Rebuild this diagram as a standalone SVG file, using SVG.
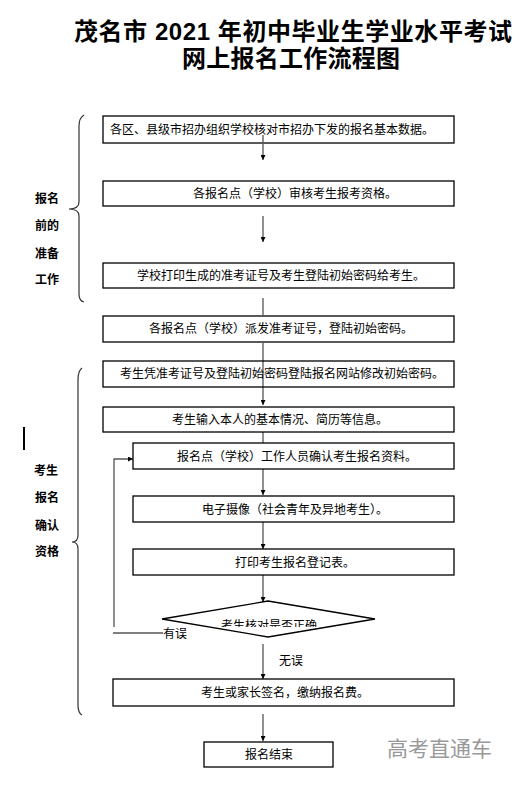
<svg xmlns="http://www.w3.org/2000/svg" width="532" height="787" viewBox="0 0 532 787">
<defs>
<style>
.box{fill:#fff;stroke:#000;stroke-width:1.3}
.t{font-family:"Noto Sans CJK SC","Liberation Sans",sans-serif;font-size:12px;fill:#000}
.side{font-family:"Noto Sans CJK SC","Liberation Sans",sans-serif;font-size:12px;font-weight:bold;fill:#000}
.title{font-family:"Liberation Sans","Noto Sans CJK SC",sans-serif;font-size:24px;font-weight:bold;fill:#000}
.c{fill:none;stroke:#555;stroke-width:1.3}
.br{fill:none;stroke:#333;stroke-width:1.2}
</style>
<marker id="ah" viewBox="0 0 10 10" refX="10" refY="5" markerWidth="5" markerHeight="5" orient="auto" markerUnits="userSpaceOnUse">
<path d="M0,0 L10,5 L0,10 z" fill="#000"/>
</marker>
<clipPath id="dclip"><rect x="150" y="590" width="240" height="37"/></clipPath>
</defs>
<rect width="532" height="787" fill="#fff"/>
<g id="title">
<text class="title" x="74" y="40" textLength="438" lengthAdjust="spacing">茂名市 2021 年初中毕业生学业水平考试</text>
<text class="title" x="182" y="67" textLength="218" lengthAdjust="spacing">网上报名工作流程图</text>
</g>
<g id="braces">
<path class="br" d="M84,115 Q79,118 79,126 L79,202 Q79,209 69,209 Q79,209 79,216 L79,294 Q79,301 84,302"/>
<path class="br" d="M82,368 Q78,371 78,380 L78,535 Q78,542 72,542 Q78,542 78,549 L78,705 Q78,713 82,715"/>
<line x1="24" y1="427" x2="24" y2="450" stroke="#000" stroke-width="2"/>
</g>
<g id="labels">
<text class="side" x="35" y="203">报名</text>
<text class="side" x="35" y="230">前的</text>
<text class="side" x="35" y="258">准备</text>
<text class="side" x="35" y="284">工作</text>
<text class="side" x="34" y="475">考生</text>
<text class="side" x="35" y="502">报名</text>
<text class="side" x="35" y="530">确认</text>
<text class="side" x="35" y="556">资格</text>
</g>
<g id="n1"><rect class="box" x="103" y="116" width="351" height="27"/><text class="t" x="110" y="134">各区、县级市招办组织学校核对市招办下发的报名基本数据。</text></g>
<g id="n2"><rect class="box" x="103" y="181" width="351" height="25"/><text class="t" x="193" y="198">各报名点（学校）审核考生报考资格。</text></g>
<g id="n3"><rect class="box" x="103" y="263" width="351" height="25"/><text class="t" x="137" y="280">学校打印生成的准考证号及考生登陆初始密码给考生。</text></g>
<g id="n4"><rect class="box" x="103" y="316" width="351" height="26"/><text class="t" x="149" y="333">各报名点（学校）派发准考证号，登陆初始密码。</text></g>
<g id="connectors">
<line class="c" x1="263" y1="135" x2="263" y2="160" marker-end="url(#ah)"/>
<line class="c" x1="263" y1="216" x2="263" y2="242" marker-end="url(#ah)"/>
<line class="c" x1="263" y1="298" x2="263" y2="316"/>
<line class="c" x1="263" y1="342" x2="263" y2="405" marker-end="url(#ah)"/>
<line class="c" x1="263" y1="432" x2="263" y2="443"/>
<line class="c" x1="263" y1="469" x2="263" y2="495" marker-end="url(#ah)"/>
<line class="c" x1="263" y1="522" x2="263" y2="549" marker-end="url(#ah)"/>
<line class="c" x1="263" y1="575" x2="263" y2="602" marker-end="url(#ah)"/>
<line class="c" x1="263" y1="644" x2="263" y2="679" marker-end="url(#ah)"/>
<line class="c" x1="263" y1="714" x2="263" y2="741" marker-end="url(#ah)"/>
<polyline class="c" points="114,627 114,459 133,459" marker-end="url(#ah)"/>
<line x1="113" y1="633" x2="163" y2="633" stroke="#000" stroke-width="1"/>
<text class="t" x="163" y="638">有误</text>
<text class="t" x="279" y="665">无误</text>
</g>
<g id="n5"><rect class="box" x="103" y="361" width="351" height="26" style="fill:none"/><text class="t" x="120" y="378">考生凭准考证号及登陆初始密码登陆报名网站修改初始密码。</text></g>
<g id="n6"><rect class="box" x="103" y="407" width="351" height="25" style="fill:none"/><text class="t" x="172" y="424">考生输入本人的基本情况、简历等信息。</text></g>
<g id="n7"><rect class="box" x="133" y="443" width="321" height="26"/><text class="t" x="177" y="461">报名点（学校）工作人员确认考生报名资料。</text></g>
<g id="n8"><rect class="box" x="133" y="496" width="321" height="26"/><text class="t" x="202" y="514">电子摄像（社会青年及异地考生）。</text></g>
<g id="n9"><rect class="box" x="133" y="549" width="321" height="26"/><text class="t" x="235" y="567">打印考生报名登记表。</text></g>
<g id="n10"><polygon class="box" points="268,601 375,619 268,637 162,619"/><text class="t" x="221" y="630" clip-path="url(#dclip)">考生核对是否正确</text></g>
<g id="n11"><rect class="box" x="113" y="679" width="341" height="27"/><text class="t" x="201" y="697">考生或家长签名，缴纳报名费。</text></g>
<g id="n12"><rect class="box" x="204" y="742" width="129" height="25"/><text class="t" x="245" y="759">报名结束</text></g>
<text x="387" y="756" font-family="Noto Sans CJK SC,Liberation Sans,sans-serif" font-size="21" fill="#999">高考直通车</text>
</svg>
